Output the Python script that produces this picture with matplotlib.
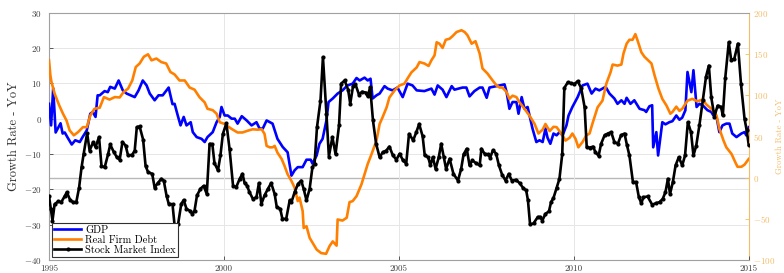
import matplotlib
matplotlib.use("Agg")
import matplotlib.pyplot as plt

plt.rcParams['font.family'] = 'serif'
plt.rcParams['font.serif'] = ['cmr10', 'DejaVu Serif']
plt.rcParams['mathtext.fontset'] = 'cm'
plt.rcParams['axes.formatter.use_mathtext'] = True
plt.rcParams['axes.unicode_minus'] = True

# ---------------- data (growth rates, YoY, left-axis units) ----------------
gdp_t = [1995.00, 1995.06, 1995.12, 1995.19, 1995.33, 1995.39, 1995.45, 1995.53, 1995.65, 1995.75,
         1995.88, 1995.96, 1996.08, 1996.18, 1996.25, 1996.33, 1996.39, 1996.45, 1996.59, 1996.68,
         1996.75, 1996.88, 1996.99, 1997.11, 1997.22, 1997.45, 1997.56, 1997.68, 1997.79, 1997.88,
         1998.02, 1998.13, 1998.25, 1998.42, 1998.53, 1998.59, 1998.68, 1998.76, 1998.85, 1998.93,
         1999.05, 1999.11, 1999.22, 1999.36, 1999.45, 1999.53, 1999.68, 1999.79, 1999.88, 1999.93,
         2000.02, 2000.11, 2000.22, 2000.31, 2000.39, 2000.51, 2000.65, 2000.79, 2000.93, 2001.02,
         2001.11, 2001.22, 2001.39, 2001.53, 2001.68, 2001.82, 2001.93, 2002.02, 2002.11, 2002.25,
         2002.36, 2002.48, 2002.53, 2002.65, 2002.73, 2002.82, 2002.93, 2002.99, 2003.11, 2003.25,
         2003.39, 2003.53, 2003.68, 2003.79, 2003.88, 2004.02, 2004.11, 2004.19, 2004.25, 2004.36,
         2004.45, 2004.59, 2004.68, 2004.82, 2004.96, 2005.11, 2005.25, 2005.39, 2005.51, 2005.73,
         2005.93, 2006.02, 2006.11, 2006.25, 2006.36, 2006.51, 2006.59, 2006.82, 2006.93, 2007.02,
         2007.16, 2007.31, 2007.39, 2007.51, 2007.59, 2007.79, 2008.02, 2008.08, 2008.16, 2008.25,
         2008.36, 2008.42, 2008.51, 2008.59, 2008.68, 2008.82, 2008.93, 2009.02, 2009.11, 2009.19,
         2009.25, 2009.33, 2009.42, 2009.51, 2009.59, 2009.68, 2009.79, 2009.85, 2009.96, 2010.11,
         2010.25, 2010.39, 2010.51, 2010.62, 2010.73, 2010.91, 2011.02, 2011.16, 2011.25, 2011.36,
         2011.45, 2011.51, 2011.62, 2011.73, 2011.88, 2012.02, 2012.07, 2012.16, 2012.24, 2012.27,
         2012.36, 2012.41, 2012.53, 2012.62, 2012.73, 2012.82, 2012.93, 2013.02, 2013.10, 2013.19,
         2013.25, 2013.36, 2013.42, 2013.51, 2013.59, 2013.68, 2013.82, 2013.93, 2013.99, 2014.08,
         2014.16, 2014.25, 2014.36, 2014.45, 2014.53, 2014.65, 2014.79, 2014.88, 2014.93, 2015.00]
gdp_v = [4.2, -1.9, 8.6, -3.9, -1.3, -4.2, -3.9, -5.3, -7.3, -6.1,
         -6.6, -5.2, -3.3, 1.4, 1.9, 0.5, 6.6, 6.6, 7.8, 7.5,
         9.0, 8.5, 10.8, 8.0, 7.1, 6.1, 8.0, 10.8, 9.4, 7.1,
         5.2, 6.6, 6.6, 8.8, 4.1, 4.2, 0.9, -1.9, 0.5, -1.9,
         -1.0, -3.8, -5.2, -5.7, -6.6, -5.2, -3.8, -1.0, 0.5, 3.3,
         0.9, 0.9, 0.0, 0.0, -1.4, 0.7, -0.5, -1.9, -1.0, -2.8,
         -2.8, -0.5, -1.4, -5.7, -8.0, -9.5, -16.1, -14.6, -13.7, -13.7,
         -11.6, -11.6, -12.7, -10.4, -7.1, -5.7, -0.5, 4.7, 5.7, 7.1,
         8.0, 9.4, 9.9, 11.5, 10.8, 11.6, 10.8, 11.3, 5.7, 6.6,
         7.1, 9.2, 8.5, 8.0, 8.8, 6.1, 9.9, 9.4, 8.0, 7.8,
         8.5, 6.8, 9.4, 8.2, 6.1, 9.2, 8.2, 8.8, 8.8, 6.3,
         7.8, 8.8, 8.8, 5.9, 8.8, 9.2, 9.7, 7.5, 2.8, 4.7,
         4.7, 1.4, 6.1, 2.8, 3.3, -2.8, -6.6, -6.1, -6.6, -2.8,
         -5.4, -7.1, -4.2, -4.7, -3.8, -4.7, -1.9, 0.9, 3.3, 6.1,
         9.4, 9.9, 7.1, 8.5, 8.0, 9.0, 7.1, 5.7, 4.2, 5.2,
         4.2, 5.9, 4.2, 5.2, 2.8, 2.4, 1.9, 3.5, 3.8, -8.1,
         -3.8, -10.4, -1.0, -1.6, -1.0, -0.7, 0.9, -0.3, 0.3, 2.4,
         13.2, 7.5, 13.7, 3.3, 4.2, 3.8, 2.4, 1.9, 0.9, 0.5,
         -3.8, -1.9, -1.4, -1.4, -4.2, -5.2, -4.2, -3.8, -4.7, -2.4]

debt_t = [1995.00, 1995.04, 1995.07, 1995.16, 1995.29, 1995.40, 1995.50, 1995.59, 1995.71, 1995.83,
          1995.97, 1996.08, 1996.18, 1996.30, 1996.45, 1996.57, 1996.73, 1996.88, 1997.02, 1997.13,
          1997.26, 1997.38, 1997.48, 1997.59, 1997.71, 1997.83, 1997.93, 1998.07, 1998.21, 1998.35,
          1998.47, 1998.59, 1998.73, 1998.88, 1999.02, 1999.16, 1999.30, 1999.45, 1999.53, 1999.68,
          1999.79, 1999.88, 2000.02, 2000.22, 2000.39, 2000.53, 2000.68, 2000.82, 2000.96, 2001.08,
          2001.16, 2001.22, 2001.31, 2001.39, 2001.45, 2001.53, 2001.65, 2001.73, 2001.82, 2001.93,
          2002.02, 2002.11, 2002.16, 2002.25, 2002.28, 2002.36, 2002.45, 2002.53, 2002.65, 2002.78,
          2002.92, 2003.02, 2003.11, 2003.22, 2003.25, 2003.39, 2003.51, 2003.59, 2003.68, 2003.79,
          2003.93, 2004.02, 2004.11, 2004.22, 2004.36, 2004.45, 2004.53, 2004.65, 2004.73, 2004.88,
          2005.02, 2005.16, 2005.25, 2005.36, 2005.51, 2005.59, 2005.73, 2005.85, 2005.93, 2006.02,
          2006.08, 2006.16, 2006.25, 2006.34, 2006.45, 2006.53, 2006.65, 2006.79, 2006.88, 2006.96,
          2007.08, 2007.19, 2007.31, 2007.39, 2007.53, 2007.68, 2007.79, 2007.88, 2007.96, 2008.08,
          2008.16, 2008.25, 2008.36, 2008.45, 2008.59, 2008.73, 2008.88, 2008.99, 2009.11, 2009.19,
          2009.31, 2009.42, 2009.51, 2009.59, 2009.68, 2009.76, 2009.88, 2009.96, 2010.05, 2010.13,
          2010.25, 2010.36, 2010.45, 2010.53, 2010.68, 2010.82, 2010.93, 2011.05, 2011.11, 2011.25,
          2011.36, 2011.42, 2011.51, 2011.59, 2011.68, 2011.76, 2011.82, 2011.93, 2012.02, 2012.22,
          2012.31, 2012.42, 2012.53, 2012.65, 2012.76, 2012.82, 2012.93, 2013.02, 2013.10, 2013.25,
          2013.39, 2013.53, 2013.68, 2013.79, 2013.93, 2014.08, 2014.16, 2014.28, 2014.36, 2014.51,
          2014.62, 2014.68, 2014.79, 2014.88, 2015.00]
debt_v = [16.5, 12.2, 10.4, 7.1, 3.8, 1.4, -0.5, -3.3, -4.7, -3.8,
          -2.4, -2.4, 0.9, 2.8, 3.1, 6.1, 5.4, 6.1, 6.0, 7.5,
          8.5, 10.8, 14.6, 15.6, 17.5, 18.2, 16.5, 17.0, 16.0, 15.6,
          13.2, 12.5, 10.8, 10.8, 8.8, 8.2, 6.1, 4.6, 2.8, 2.4,
          1.4, -1.0, -1.5, -2.9, -3.9, -3.9, -3.4, -3.0, -3.1, -3.0,
          -4.3, -7.7, -8.1, -8.1, -7.7, -9.6, -11.4, -13.3, -15.7, -17.6,
          -19.5, -23.3, -22.3, -26.1, -30.9, -30.4, -33.7, -35.0, -37.0, -38.0,
          -38.2, -36.0, -34.7, -35.9, -28.5, -28.8, -28.0, -23.6, -23.3, -21.9,
          -18.6, -15.7, -12.8, -10.0, -6.2, -1.5, 0.3, 3.2, 6.0, 8.0,
          9.4, 9.9, 11.4, 13.1, 14.5, 16.0, 15.6, 14.9, 16.5, 17.9,
          21.6, 21.2, 20.0, 22.3, 22.6, 23.3, 24.5, 25.0, 24.5, 23.6,
          21.2, 21.9, 18.4, 14.2, 12.8, 10.8, 9.4, 8.8, 8.8, 7.5,
          5.6, 6.5, 6.1, 4.6, 2.8, 0.9, -1.5, -4.2, -3.1, -1.5,
          -3.5, -2.3, -2.4, -3.5, -4.8, -6.2, -5.4, -4.2, -5.7, -8.1,
          -6.6, -4.7, -4.2, -1.5, 3.2, 5.1, 9.9, 13.1, 15.3, 15.0,
          15.3, 18.4, 21.2, 22.3, 22.3, 23.9, 22.2, 18.8, 17.5, 15.6,
          12.2, 8.5, 5.6, 3.7, 1.4, 1.9, 3.4, 2.2, 2.8, 5.1,
          5.6, 4.9, 5.4, 4.0, 2.8, 0.9, -2.8, -6.2, -8.1, -10.0,
          -12.4, -13.6, -13.6, -13.0, -11.4]

stock_t = [1995.00, 1995.05, 1995.10, 1995.16, 1995.26, 1995.35, 1995.45, 1995.51, 1995.61, 1995.69,
           1995.78, 1995.86, 1995.93, 1995.99, 1996.09, 1996.16, 1996.26, 1996.33, 1996.43, 1996.50,
           1996.59, 1996.69, 1996.75, 1996.85, 1996.94, 1997.02, 1997.10, 1997.19, 1997.26, 1997.38,
           1997.45, 1997.51, 1997.59, 1997.69, 1997.76, 1997.83, 1997.95, 1998.02, 1998.11, 1998.21,
           1998.28, 1998.36, 1998.42, 1998.53, 1998.59, 1998.69, 1998.78, 1998.85, 1998.93, 1999.02,
           1999.10, 1999.16, 1999.23, 1999.33, 1999.42, 1999.51, 1999.59, 1999.67, 1999.73, 1999.83,
           1999.90, 1999.97, 2000.07, 2000.16, 2000.26, 2000.35, 2000.45, 2000.53, 2000.59, 2000.66,
           2000.73, 2000.83, 2000.93, 2001.00, 2001.07, 2001.16, 2001.26, 2001.35, 2001.45, 2001.51,
           2001.61, 2001.67, 2001.78, 2001.88, 2001.93, 2002.02, 2002.12, 2002.21, 2002.28, 2002.36,
           2002.45, 2002.53, 2002.59, 2002.66, 2002.76, 2002.83, 2002.93, 2003.00, 2003.10, 2003.19,
           2003.29, 2003.35, 2003.45, 2003.55, 2003.61, 2003.69, 2003.76, 2003.86, 2003.95, 2004.05,
           2004.11, 2004.18, 2004.26, 2004.35, 2004.45, 2004.54, 2004.64, 2004.73, 2004.83, 2004.93,
           2005.02, 2005.12, 2005.21, 2005.29, 2005.41, 2005.50, 2005.58, 2005.68, 2005.74, 2005.84,
           2005.90, 2005.97, 2006.05, 2006.14, 2006.21, 2006.28, 2006.35, 2006.45, 2006.56, 2006.69,
           2006.78, 2006.85, 2006.94, 2007.02, 2007.10, 2007.21, 2007.31, 2007.36, 2007.45, 2007.54,
           2007.61, 2007.69, 2007.78, 2007.86, 2007.95, 2008.05, 2008.14, 2008.23, 2008.35, 2008.45,
           2008.56, 2008.64, 2008.69, 2008.75, 2008.85, 2008.97, 2009.04, 2009.10, 2009.19, 2009.29,
           2009.35, 2009.42, 2009.51, 2009.59, 2009.67, 2009.73, 2009.83, 2009.92, 2010.02, 2010.11,
           2010.21, 2010.31, 2010.37, 2010.45, 2010.55, 2010.62, 2010.71, 2010.78, 2010.88, 2010.97,
           2011.07, 2011.16, 2011.26, 2011.35, 2011.45, 2011.52, 2011.59, 2011.69, 2011.78, 2011.86,
           2011.93, 2011.99, 2012.11, 2012.24, 2012.35, 2012.45, 2012.54, 2012.62, 2012.69, 2012.75,
           2012.83, 2012.91, 2013.00, 2013.10, 2013.18, 2013.26, 2013.35, 2013.42, 2013.50, 2013.59,
           2013.69, 2013.78, 2013.86, 2013.93, 2014.02, 2014.11, 2014.21, 2014.26, 2014.33, 2014.43,
           2014.50, 2014.59, 2014.69, 2014.78, 2014.88, 2014.94, 2015.00]
stock_v = [-21.9, -25.4, -28.8, -24.2, -23.4, -23.6, -21.9, -20.8, -23.1, -23.6,
           -23.6, -19.5, -13.8, -10.0, -4.1, -9.0, -6.7, -8.0, -5.2, -13.3,
           -13.8, -10.0, -7.3, -9.4, -10.9, -11.6, -6.6, -7.6, -10.4, -10.2,
           -9.0, -2.4, -2.2, -5.9, -13.3, -15.1, -15.6, -19.5, -18.2, -17.0,
           -17.5, -21.8, -24.0, -24.2, -30.2, -29.8, -24.1, -23.0, -25.5, -26.0,
           -26.9, -26.0, -21.7, -19.8, -19.0, -21.3, -7.1, -7.3, -12.6, -14.6,
           -10.4, -4.3, -1.3, -8.5, -18.9, -19.4, -17.0, -15.6, -18.2, -18.9,
           -20.8, -22.7, -22.2, -18.2, -24.1, -21.7, -19.8, -18.2, -21.3, -25.0,
           -25.5, -28.3, -28.3, -23.1, -23.6, -20.8, -18.4, -17.5, -19.9, -23.1,
           -19.8, -13.7, -12.8, -2.4, 5.1, 17.4, 1.4, -10.7, -5.2, -10.0,
           -1.9, 9.9, 10.8, 8.2, 4.2, 9.2, 9.7, 6.8, 7.6, 7.4,
           6.3, 8.9, -0.5, -7.1, -10.9, -9.5, -9.0, -7.9, -10.4, -11.6,
           -9.9, -11.8, -12.7, -4.3, -6.1, -3.8, -1.5, -5.0, -10.4, -10.9,
           -13.2, -10.9, -14.2, -10.9, -7.1, -10.7, -14.2, -11.3, -15.6, -17.5,
           -14.2, -10.1, -8.5, -13.2, -11.8, -12.6, -13.2, -8.5, -9.9, -10.1,
           -11.0, -8.9, -9.9, -13.2, -15.8, -17.5, -15.6, -17.5, -17.3, -18.2,
           -19.7, -20.3, -23.1, -29.9, -29.6, -27.8, -27.8, -28.8, -26.9, -26.2,
           -23.6, -22.4, -19.5, -17.0, -10.0, 8.7, 10.3, 10.0, 9.8, 10.6,
           8.7, 3.2, -8.1, -8.2, -7.9, -9.5, -10.5, -7.1, -4.7, -4.2,
           -3.8, -6.6, -7.1, -4.7, -4.2, -7.5, -10.4, -17.9, -17.9, -22.2,
           -23.9, -22.2, -22.0, -24.3, -23.9, -23.6, -22.7, -20.8, -17.0, -21.3,
           -18.0, -13.2, -10.9, -13.2, -10.4, -1.0, -3.8, -10.4, -7.6, -1.9,
           5.4, 11.9, 15.0, 6.0, 0.6, 3.7, 3.3, 0.9, 11.6, 21.6,
           16.5, 17.0, 21.2, 9.7, 0.0, -3.2, -7.4]

series_labels = ['GDP', 'Real Firm Debt', 'Stock Market Index']
x_ticks = [1995, 2000, 2005, 2010, 2015]
left_ticks = [-40, -30, -20, -10, 0, 10, 20, 30]
right_ticks = [-100, -50, 0, 50, 100, 150, 200]
ylabel = 'Growth Rate - YoY'

# ---------------- figure ----------------
fig = plt.figure(figsize=(7.84, 2.73), dpi=100)
ax = fig.add_axes([0.0625, 0.047, 0.8925, 0.907])
ax2 = ax.twinx()

right_col = '#f2bd6a'
spine_col = '#a0a0a0'

ax.plot(gdp_t, gdp_v, color='#0000ff', lw=1.9, label=series_labels[0], zorder=3)
ax.plot(debt_t, debt_v, color='#ff8000', lw=1.9, label=series_labels[1], zorder=3)
ax.plot(stock_t, stock_v, color='black', lw=1.9, marker='.', ms=4,
        label=series_labels[2], zorder=4)

ax.set_xlim(1995, 2015)
ax.set_ylim(-40, 30)
ax2.set_ylim(-100, 200)
ax.set_xticks(x_ticks)
ax.set_xticklabels([str(t) for t in x_ticks])
ax.set_yticks(left_ticks)
ax2.set_yticks(right_ticks)
ax2.axhline(0, color='#b8b8b8', lw=1.0, zorder=1)

ax.grid(True, color='#e6e6e6', lw=0.7)
ax.set_axisbelow(True)

ax.tick_params(axis='both', direction='in', length=3, labelsize=6.5,
               colors='#404040', width=0.6, pad=3)
ax.tick_params(axis='x', labelsize=6.5, pad=3)
ax.tick_params(axis='y', left=True, right=False, pad=5)
ax2.tick_params(axis='y', direction='in', length=3, labelsize=6.5,
                colors=right_col, width=0.6, pad=3)

for s in ['top', 'bottom', 'left']:
    ax.spines[s].set_color(spine_col)
    ax.spines[s].set_linewidth(0.8)
for s in ['top', 'bottom', 'left']:
    ax2.spines[s].set_visible(False)
ax2.spines['right'].set_color(right_col)
ax2.spines['right'].set_linewidth(0.8)
ax.spines['right'].set_visible(False)

ax.set_ylabel(ylabel, fontsize=9, color='#303030', labelpad=3)
ax2.set_ylabel(ylabel, fontsize=6.2, color=right_col, labelpad=0)

ax.set_zorder(ax2.get_zorder() + 1)
ax.patch.set_visible(False)

leg = ax.legend(loc='lower left', fontsize=7.5, frameon=True, fancybox=False,
                edgecolor='#303030', framealpha=1, borderpad=0.2, labelspacing=0.05,
                handlelength=2.6, handletextpad=0.4, borderaxespad=0.3)
leg.get_frame().set_linewidth(0.8)

fig.savefig('out.png', dpi=100)
